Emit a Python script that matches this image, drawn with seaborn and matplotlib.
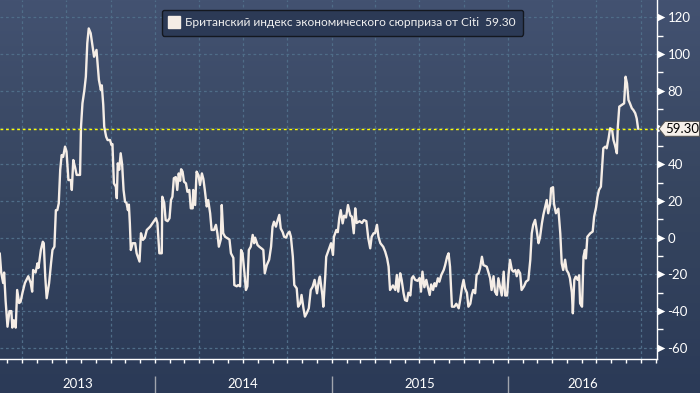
import numpy as np
import pandas as pd
import matplotlib
matplotlib.use("Agg")
import matplotlib.pyplot as plt
import matplotlib.dates as mdates
import matplotlib.transforms as mtransforms
from matplotlib.colors import LinearSegmentedColormap
from matplotlib.patches import Polygon
from matplotlib.lines import Line2D
from matplotlib import font_manager
import seaborn as sns

# ---------------- data ----------------
base_date = "2013-01-01"
day_offset = [
    44, 47, 51, 53, 56, 60, 64, 68, 70, 73, 77, 80, 84, 87, 91, 96, 103, 108, 111, 113,
    118, 122, 124, 129, 133, 135, 138, 141, 146, 150, 153, 157, 160, 163, 166, 169, 172, 175, 179, 182,
    186, 191, 193, 196, 200, 203, 210, 212, 215, 219, 222, 225, 228, 232, 235, 239, 244, 246, 249, 253,
    255, 258, 260, 264, 267, 272, 275, 277, 280, 284, 286, 288, 291, 294, 297, 300, 303, 306, 309, 311,
    313, 315, 319,
    324, 327, 333, 336, 340, 344, 348, 355, 362, 367, 370, 374, 379, 380, 384, 387, 391, 395, 398, 401,
    404, 408, 411, 414, 417, 419, 422, 425, 429, 432, 436, 439, 443, 444, 448, 451, 455, 458, 462, 465,
    468, 472, 475, 479, 482, 487, 491, 494, 497, 501, 503, 506, 510, 513, 519, 522, 527, 529, 534, 537,
    541, 543, 546, 550, 553, 556, 559, 563, 567, 570, 572, 577, 581, 586, 589,
    592, 596, 601, 605, 608, 611, 615, 618, 622, 625, 629, 632, 636, 639, 643, 646, 650, 653, 658, 661,
    665, 668, 672, 675, 679, 683, 687, 691, 695, 700, 704, 706, 711, 713, 717, 719, 724, 729, 733, 735,
    740, 743, 746, 749, 753, 756, 760, 764, 769, 772, 776, 779, 782, 788, 793, 797, 802, 806, 810, 813,
    817, 820, 824, 827, 831, 837, 841, 845, 848, 851,
    857, 862, 865, 868, 872, 875, 879, 882, 886, 889, 893, 896, 899, 903, 908, 912, 915, 918, 922, 926,
    929, 933, 936, 940, 943, 946, 950, 953, 957, 962, 965, 969, 972, 975, 979, 984, 988, 993, 996, 1000,
    1003, 1006, 1010, 1013, 1017, 1020, 1023, 1027, 1030, 1034, 1037, 1041, 1044, 1051, 1054, 1058, 1061, 1065, 1068, 1072,
    1075, 1079, 1082, 1086, 1089, 1093, 1096, 1099, 1103, 1106, 1110, 1113, 1116, 1120, 1123,
    1128, 1132, 1137, 1141, 1144, 1147, 1151, 1154, 1158, 1161, 1165, 1168, 1172, 1175, 1178, 1182, 1184, 1188, 1190, 1194,
    1199, 1203, 1206, 1209, 1213, 1216, 1220, 1223, 1227, 1229, 1232, 1235, 1239, 1242, 1244, 1248, 1251, 1254, 1256, 1259,
    1265, 1270, 1273, 1277, 1280, 1283, 1287, 1290, 1292, 1296, 1299, 1303, 1306, 1310, 1313, 1316, 1320, 1322, 1325, 1330,
    1335, 1338, 1341, 1344, 1347, 1351, 1354, 1358, 1361, 1364,
]
index_value = [
    -8.5, -19, -24.7, -19, -34, -48.5, -40, -40, -49, -45, -49, -28.5, -35.6, -35, -30, -24.7, -21, -24.7, -29.4, -17.6,
    -19, -14, -16.5, -6.7, -2.2, -3, -21, -33, -24.8, -14, -6.7, -4.9, 15, 15, 18.7, 37, 45, 44, 49.6, 47,
    31.4, 31.4, 26, 42.3, 38, 34.2, 34.2, 60.5, 73.2, 80.5, 87.7, 106, 114, 111.4, 106, 98.6, 102.3, 96, 86, 80.5,
    83, 72.3, 60.5, 55, 53.2, 53.2, 50.5, 51, 29.6, 27.8, 21.5, 40.5, 37, 46, 40, 26, 19.6, 19, 15, 18,
    7.8, -6.7, -3,
    -3, -8.5, -13, 2.4, -1.2, 0, 4.2, 6, 8.7, 10.6, 8, -8.5, -8.5, 22.3, 19, 9.6, 9, 10.6, 20.5, 22.3,
    32.4, 33, 26, 35, 31, 37.3, 36, 30.5, 29.6, 25, 26, 16, 16, 26, 17.8, 36, 34, 28.7, 35, 32,
    26, 17, 20.5, 13.3, 4.2, 4.2, 7, 2.4, -4.9, -1, 17.8, 2.4, 0.5, 0, -1, -8.5, -11, -25.8, -26.5, -25.8,
    -26.5, -6.7, -8.5, -19.4, -28.5, -26.5, -6.7, -4.9, 1.5, -3, 0, -4, -5, -6, -6.7,
    -19.4, -15, -12, -4.9, 6, 8.7, 6, 9, 12.4, 5, 3, 0.5, 0, 2, 3.3, 0.5, -10.4, -25.8, -27.6, -37.6,
    -36, -31.2, -38.5, -43, -41, -38.5, -28.5, -26.7, -23, -30.3, -23, -21.2, -31.2, -37.6, -21, -10.4, -6.7, -3, -9.4, 0.5,
    4.2, 3, 10.6, 15, 7.8, 12, 11, 17.8, 12, 11.5, 2.4, 16, 8, 9, 8, 9.6, 9, -0.3, -5.8, 0.5,
    2.4, 2.4, 7, 0.5, -3, -5, -7.6, -11.3, -15.8, -28.5,
    -26, -28.5, -20.3, -29.4, -19.4, -23, -30.3, -34, -34.5, -30, -31.5, -22.1, -21, -23, -23.5, -22, -29.4, -18.5, -27, -23,
    -26.7, -31.2, -25.5, -28.5, -24.8, -26.5, -22.1, -24, -20.3, -17.6, -14.9, -10.4, -8.5, -15.8, -37.6, -37.6, -36, -38.5, -34, -26.7,
    -23, -27.6, -30, -37.6, -36, -31.2, -28.5, -30.3, -20.3, -19.4, -16.7, -10.4, -14.9, -15.8, -18.5, -22.1, -28.5, -21, -29.4, -31.2,
    -22.1, -27.6, -31.5, -18.5, -31.5, -31.5, -20.3, -12.1, -17.6, -18.5, -17.6, -21, -17.6, -19.4, -28.5,
    -26.5, -24, -23, -12.1, 2.4, 7, 9.7, 4.5, -3, 0, 7.8, 12.4, 17, 20.5, 13.3, 18.5, 26.9, 27.5, 18.5, 13.3,
    15.8, 2.4, -14, -17.6, -12, -17.6, -19.4, -22.1, -30, -41.2, -23, -21.2, -23, -20.5, -35.8, -37.6, -10.4, -6.7, -11.3, 0.5,
    2.4, 3.3, 11.5, 16.5, 22.3, 26, 27.8, 40.5, 48.7, 49.6, 48.7, 54.2, 59.6, 59, 53.2, 50.5, 46, 60.5, 71.4, 72.3,
    73.2, 87.7, 84, 75, 73.2, 70.5, 69.6, 67.8, 65, 59.3,
]
series_label = "Британский индекс экономического сюрприза от Citi"
year_labels = [2013, 2014, 2015, 2016]
y_ticks = list(range(-60, 121, 20))
view_start_day, view_end_day = 44.5, 1403

# ---------------- style ----------------
sns.set_theme(style="dark")
names = {f.name for f in font_manager.fontManager.ttflist}
FONT = "Liberation Sans Narrow" if "Liberation Sans Narrow" in names else "Lato"
plt.rcParams["font.family"] = [FONT, "DejaVu Sans"]
narrow = FONT == "Liberation Sans Narrow"
FS_TICK = 10 if narrow else 9.5
FS_LEG = 9.5 if narrow else 8.6

W, H = 700, 393
fig = plt.figure(figsize=(W / 100, H / 100), dpi=100)

# gradient background
bg = fig.add_axes([0, 0, 1, 1], zorder=0)
bg.axis("off")
cmap = LinearSegmentedColormap.from_list("bg", ["#435271", "#36455f", "#2b3a57"])
bg.imshow(np.linspace(0, 1, 256)[:, None], aspect="auto", cmap=cmap, extent=[0, 1, 0, 1])

AX_R = 657
AX_B = 34
ax = fig.add_axes([0, AX_B / H, AX_R / W, 1 - AX_B / H], zorder=2)
ax.patch.set_alpha(0)

base = pd.Timestamp(base_date)
dates = base + pd.to_timedelta(day_offset, unit="D")
df = pd.DataFrame({"date": dates, "value": index_value})

sns.lineplot(data=df, x="date", y="value", ax=ax, color="#f5ede6", linewidth=1.7,
             estimator=None, sort=False, legend=False, zorder=4)

last = index_value[-1]
ax.axhline(last, color="#ffff00", lw=1.0, ls=(0, (2, 2)), zorder=5)

x0 = base + pd.Timedelta(days=view_start_day)
x1 = base + pd.Timedelta(days=view_end_day)
ax.set_xlim(x0, x1)
ax.set_ylim(-66.1, 129.5)

# axes styling
ax.yaxis.tick_right()
ax.set_yticks(y_ticks)
ax.set_yticks([t + 10 for t in y_ticks[:-1]], minor=True)
# the value tag covers the tick label nearest to the last value
ax.set_yticklabels(["" if abs(t - last) < 8 else str(t) for t in y_ticks])
ax.tick_params(axis="y", which="major", length=0, pad=7.5, labelcolor="white", labelsize=FS_TICK,
               right=True, left=False, labelright=True, labelleft=False)
ax.tick_params(axis="y", which="minor", length=4, width=1, color="white", direction="out",
               right=True, left=False)
ax.xaxis.set_major_locator(mdates.MonthLocator(bymonth=[1, 4, 7, 10]))
ax.xaxis.set_minor_locator(mdates.MonthLocator())
ax.tick_params(axis="x", which="both", length=3, width=1, color="white", direction="out",
               labelbottom=False, bottom=True)
ax.set_xlabel("")
ax.set_ylabel("")
grid_kw = dict(color="#4f6d88", lw=0.9, ls=(0, (2.2, 2.2)))
ax.grid(axis="both", which="major", **grid_kw)
for s in ["top", "left"]:
    ax.spines[s].set_visible(False)
for s in ["right", "bottom"]:
    ax.spines[s].set_color("white")
    ax.spines[s].set_linewidth(1.0)

# triangle major tick markers
blend = mtransforms.blended_transform_factory(ax.transAxes, ax.transData)
ax.scatter(np.full(len(y_ticks), 660.5 / AX_R), y_ticks, marker=">", s=30, color="white",
           transform=blend, clip_on=False, zorder=6, linewidths=0)

# legend box
handle = Line2D([], [], marker="s", linestyle="none", color="#f5ede6", markersize=8)
leg = fig.legend([handle], [f"{series_label}  {last:.2f}"], loc="upper left",
                 bbox_to_anchor=(162 / W, 1 - 10 / H), borderaxespad=0, frameon=True,
                 fancybox=True, facecolor="#2c3a56", edgecolor="#141820", framealpha=1,
                 handlelength=0.8, handletextpad=0.5, borderpad=0.62, fontsize=FS_LEG,
                 labelcolor="#f0f0f0")
leg.get_frame().set_linewidth(1.0)
leg.set_zorder(10)

# value tag at right
fig.canvas.draw()
yd = ax.transData.transform((0, last))[1]
tip_x = AX_R + 2
pts = [(tip_x, yd), (tip_x + 6, yd + 7.5), (W - 0.5, yd + 7.5), (W - 0.5, yd - 7.5), (tip_x + 6, yd - 7.5)]
tag = Polygon([(px / W, py / H) for px, py in pts], closed=True, transform=fig.transFigure,
              facecolor="#f7f1ea", edgecolor="#555555", lw=0.8, zorder=11)
fig.add_artist(tag)
fig.text((tip_x + 5 + W) / 2 / W, yd / H, f"{last:.2f}", ha="center", va="center",
         color="black", fontsize=FS_TICK, zorder=12)

# year band
band = fig.add_axes([0, 0, AX_R / W, AX_B / H], zorder=2)
band.patch.set_alpha(0)
band.axis("off")
band.set_xlim(x0, x1)
band.set_ylim(0, 1)
for yr in year_labels:
    s = max(pd.Timestamp(f"{yr}-01-01"), x0)
    e = min(pd.Timestamp(f"{yr + 1}-01-01"), x1)
    band.text(s + (e - s) / 2, 0.25, str(yr), ha="center", va="center", color="white", fontsize=FS_TICK)
band.vlines([pd.Timestamp(f"{yr}-01-01") for yr in year_labels[1:]], 0, 0.5, color="#a0a4ad", lw=1)

fig.savefig("out.png", dpi=100)
